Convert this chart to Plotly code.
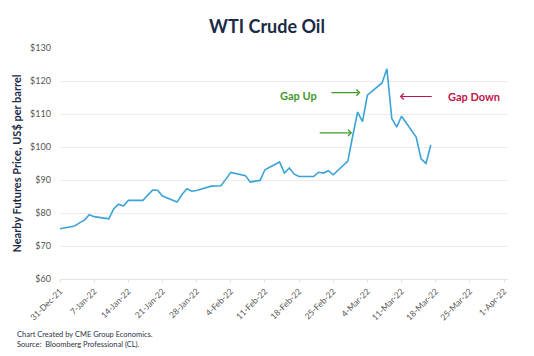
import plotly.graph_objects as go

dates = ["2021-12-31","2022-01-03","2022-01-04","2022-01-05","2022-01-06","2022-01-07",
         "2022-01-10","2022-01-11","2022-01-12","2022-01-13","2022-01-14","2022-01-17",
         "2022-01-18","2022-01-19","2022-01-20","2022-01-21","2022-01-24","2022-01-25",
         "2022-01-26","2022-01-27","2022-01-28","2022-01-31","2022-02-01","2022-02-02",
         "2022-02-03","2022-02-04","2022-02-07","2022-02-08","2022-02-09","2022-02-10",
         "2022-02-11","2022-02-14","2022-02-15","2022-02-16","2022-02-17","2022-02-18",
         "2022-02-21","2022-02-22","2022-02-23","2022-02-24","2022-02-25","2022-02-28",
         "2022-03-01","2022-03-02","2022-03-03","2022-03-04","2022-03-07","2022-03-08",
         "2022-03-09","2022-03-10","2022-03-11","2022-03-14","2022-03-15","2022-03-16",
         "2022-03-17"]
prices = [75.21,76.08,76.99,77.85,79.46,78.90,
          78.23,81.22,82.64,82.12,83.82,83.82,
          85.43,86.96,86.90,85.14,83.31,85.60,
          87.35,86.61,86.82,88.15,88.20,88.26,
          90.27,92.31,91.32,89.36,89.66,89.88,
          93.10,95.46,92.07,93.66,91.76,91.07,
          91.07,92.35,92.10,92.81,91.59,95.72,
          103.41,110.60,107.67,115.68,119.40,123.70,
          108.70,106.02,109.33,103.01,96.44,95.04,
          100.60]

tick_dates = ["2021-12-31","2022-01-07","2022-01-14","2022-01-21","2022-01-28","2022-02-04",
              "2022-02-11","2022-02-18","2022-02-25","2022-03-04","2022-03-11","2022-03-18",
              "2022-03-25","2022-04-01"]
tick_labels = ["31-Dec-21","7-Jan-22","14-Jan-22","21-Jan-22","28-Jan-22","4-Feb-22",
               "11-Feb-22","18-Feb-22","25-Feb-22","4-Mar-22","11-Mar-22","18-Mar-22",
               "25-Mar-22","1-Apr-22"]
y_ticks = [60, 70, 80, 90, 100, 110, 120, 130]
y_labels = ["$" + str(v) for v in y_ticks]

FONT = "Lato"
GRAY = "#555555"
NAVY = "#1b2a47"
GREEN = "#3f9a2b"
RED = "#c0164a"

fig = go.Figure()
fig.add_trace(go.Scatter(x=dates, y=prices, mode="lines",
                         line=dict(color="#3ba3d6", width=1.6), hoverinfo="skip"))

fig.update_layout(
    width=534, height=356,
    margin=dict(l=60, r=26, t=48, b=77),
    paper_bgcolor="white", plot_bgcolor="white",
    showlegend=False,
    title=dict(text="<b>WTI Crude Oil</b>", x=0.5, xanchor="center", y=0.925, yanchor="middle",
               font=dict(family=FONT, size=18, color=NAVY)),
    font=dict(family=FONT, color=GRAY),
)
fig.update_xaxes(type="date", range=["2021-12-31", "2022-04-01 19:40"],
                 tickmode="array", tickvals=tick_dates, ticktext=tick_labels,
                 tickangle=-45, tickfont=dict(family=FONT, size=8.5, color=GRAY),
                 showgrid=False, showline=True, linecolor="#e3e3e3", linewidth=1,
                 ticks="outside", ticklen=3, tickcolor="#e3e3e3", zeroline=False)
fig.update_yaxes(range=[60, 130], tickmode="array", tickvals=y_ticks, ticktext=y_labels,
                 tickfont=dict(family=FONT, size=9, color=GRAY),
                 showgrid=True, gridcolor="#ececec", gridwidth=1, zeroline=False,
                 showline=False, ticks="", ticklabelstandoff=8,
                 title=dict(text="<b>Nearby Futures Price, US$ per barrel</b>",
                            font=dict(family=FONT, size=11, color=NAVY), standoff=6))

# Annotations
fig.add_annotation(x="2022-02-17 19:00", y=115.5, text="<b>Gap Up</b>", showarrow=False,
                   font=dict(family=FONT, size=11, color=GREEN))
fig.add_annotation(x="2022-03-25 19:00", y=115.2, text="<b>Gap Down</b>", showarrow=False,
                   font=dict(family=FONT, size=11, color=RED))
fig.add_annotation(x="2022-03-02 14:00", y=116.5, ax="2022-02-24 08:00", ay=116.5,
                   xref="x", yref="y", axref="x", ayref="y", text="", showarrow=True,
                   arrowhead=4, arrowsize=1, arrowwidth=1.2, arrowcolor=GREEN)
fig.add_annotation(x="2022-02-28 21:00", y=104.3, ax="2022-02-21 22:00", ay=104.3,
                   xref="x", yref="y", axref="x", ayref="y", text="", showarrow=True,
                   arrowhead=4, arrowsize=1, arrowwidth=1.2, arrowcolor=GREEN)
fig.add_annotation(x="2022-03-10 15:00", y=115.3, ax="2022-03-17 12:00", ay=115.3,
                   xref="x", yref="y", axref="x", ayref="y", text="", showarrow=True,
                   arrowhead=4, arrowsize=1, arrowwidth=1.2, arrowcolor=RED)

fig.add_annotation(xref="paper", yref="paper", x=(15 - 60) / 448, y=-(328 - 279) / 231,
                   xanchor="left", yanchor="top",
                   text="Chart Created by CME Group Economics.<br>Source:  Bloomberg Professional (CL).",
                   showarrow=False, align="left",
                   font=dict(family=FONT, size=7.5, color="#2a3345"))

fig.write_html("out.html", config={"displayModeBar": False},
               post_script="document.body.style.margin='0';")
